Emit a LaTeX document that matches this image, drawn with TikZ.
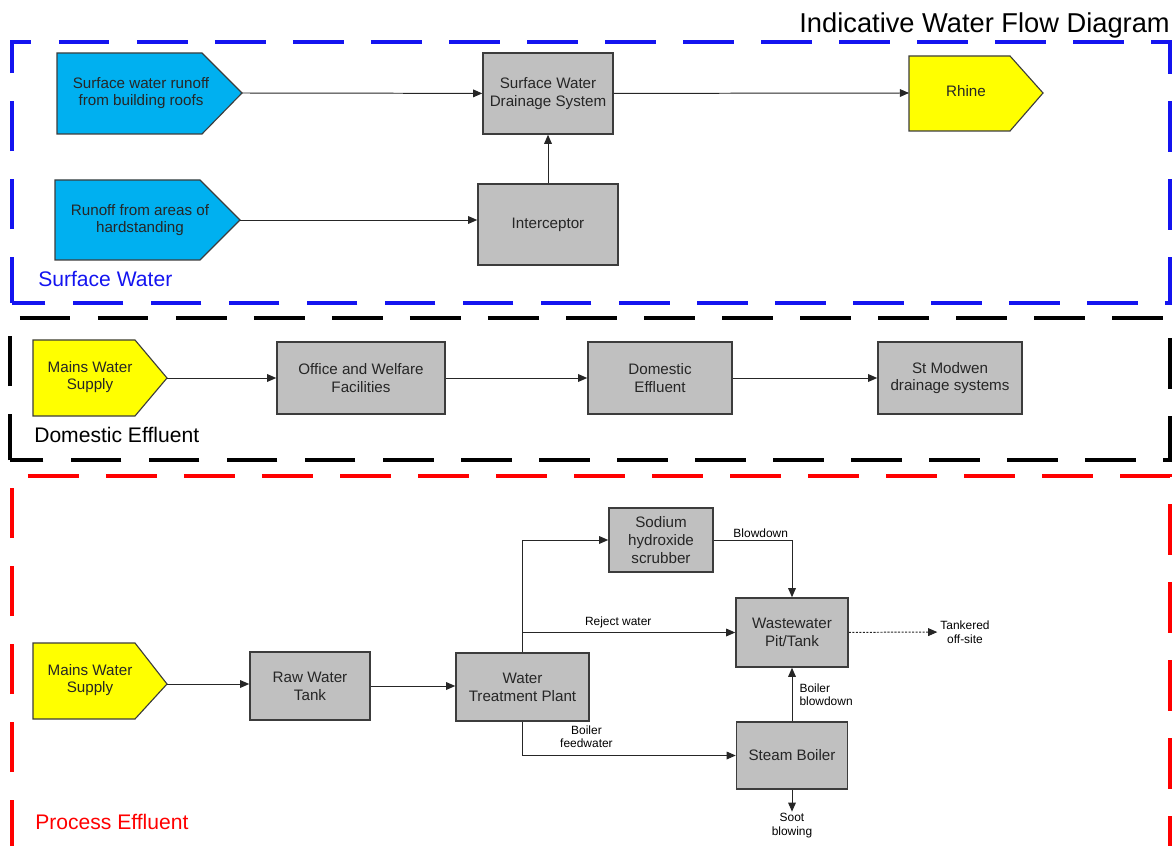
\documentclass[tikz,border=0pt]{standalone}
\usepackage{fontspec}
\setmainfont{Liberation Sans}
\usetikzlibrary{arrows.meta}
\definecolor{runoffblue}{HTML}{00B0F0}
\definecolor{supplyyellow}{HTML}{FFFF00}
\definecolor{unitgrey}{HTML}{C0C0C0}
\definecolor{edgegrey}{HTML}{3C3C3C}
\definecolor{zoneblue}{HTML}{1414F0}
\definecolor{zonered}{HTML}{FF0000}
\tikzset{> = { Triangle[length = 6.5pt, width = 5.5pt] }}
\tikzset{
	unit/.style = { draw = edgegrey, fill = unitgrey, line width = 1.1pt, align = center,
		inner sep = 0pt, text = black!85, font = \fontsize{10.8}{12.6}\selectfont },
	source/.style = { draw = edgegrey, line width = 0.8pt },
	sourcetext/.style = { align = center, inner sep = 0pt, text = black!85, font = \fontsize{10.8}{12.6}\selectfont },
	flow/.style = { line width = 0.7pt, draw = black!85 },
	note/.style = { align = center, inner sep = 1pt, font = \fontsize{8.5}{9.6}\selectfont },
	zone/.style = { line width = 2.6pt, dash pattern = on 36pt off 19.5pt, dash phase = 3pt },
	zonetitle/.style = { anchor = base west, inner sep = 0pt, font = \fontsize{15}{18}\selectfont }
}

\begin{document}
\begin{tikzpicture}[x = 0.25mm, y = -0.25mm]
	\useasboundingbox (0, 0) rectangle (1172, 846);

	% Zones.
	\draw [zone, zoneblue] (12, 303)
		to (12, 42)
		to (1170, 42)
		to (1170, 303)
		to cycle;
	\draw [zone, black] (10, 460)
		to (10, 318)
		to (1170, 318)
		to (1170, 460)
		to cycle;
	\draw [zone, zonered] (12, 846)
		to (12, 476)
		to (1170, 476)
		to (1170, 846);

	\node [anchor = base east, inner sep = 0pt, font = \fontsize{19.4}{23}\selectfont] (title) at (1170, 33) {Indicative Water Flow Diagram};
	\node [zonetitle, zoneblue] (surface) at (38, 287) {Surface Water};
	\node [zonetitle] (domestic) at (34, 443) {Domestic Effluent};
	\node [zonetitle, zonered] (process) at (35, 829) {Process Effluent};

	% Surface water.
	\draw [source, fill = runoffblue] (57, 53)
		to (202, 53)
		to (242, 93)
		to (202, 134)
		to (57, 134)
		to cycle;
	\node [sourcetext] (roofs) at (141, 93) {Surface water runoff\\from building roofs};
	\coordinate (roofs tip) at (242, 93);

	\draw [source, fill = runoffblue] (55, 180)
		to (200, 180)
		to (240, 220)
		to (200, 260)
		to (55, 260)
		to cycle;
	\node [sourcetext] (hard) at (140, 220) {Runoff from areas of\\hardstanding};
	\coordinate (hard tip) at (240, 220);

	\draw [source, fill = supplyyellow] (909, 56)
		to (1010, 56)
		to (1043, 93)
		to (1010, 131)
		to (909, 131)
		to cycle;
	\node [sourcetext] (rhine) at (966, 91) {Rhine};
	\coordinate (rhine back) at (909, 93);

	\node [unit, minimum width = 32.5mm, minimum height = 20.25mm] (swds) at (548, 93.5) {Surface Water\\Drainage System};
	\node [unit, minimum width = 35mm, minimum height = 20.25mm] (interceptor) at (548, 224.5) {Interceptor};

	\draw [flow, ->] (roofs tip) to (swds);
	\draw [flow, ->] (hard tip) to (hard tip -| interceptor.west);
	\draw [flow, ->] (interceptor) to (swds);
	\draw [flow, ->] (swds) to (rhine back);

	% Domestic effluent.
	\draw [source, fill = supplyyellow] (33, 340)
		to (135, 340)
		to (167, 378)
		to (135, 416)
		to (33, 416)
		to cycle;
	\node [sourcetext] (mains) at (90, 377) {Mains Water\\Supply};
	\coordinate (mains tip) at (167, 378);

	\node [unit, minimum width = 42mm, minimum height = 18mm] (office) at (361, 378) {Office and Welfare\\Facilities};
	\node [unit, minimum width = 36mm, minimum height = 18mm] (domeff) at (660, 378) {Domestic\\Effluent};
	\node [unit, minimum width = 36mm, minimum height = 18mm] (modwen) at (950, 378) {St Modwen\\drainage systems};

	\draw [flow, ->] (mains tip) to (office);
	\draw [flow, ->] (office) to (domeff);
	\draw [flow, ->] (domeff) to (modwen);

	% Process effluent.
	\draw [source, fill = supplyyellow] (33, 643)
		to (135, 643)
		to (167, 684)
		to (135, 719)
		to (33, 719)
		to cycle;
	\node [sourcetext] (supply) at (90, 680) {Mains Water\\Supply};
	\coordinate (supply tip) at (167, 684);

	\node [unit, minimum width = 30mm, minimum height = 17mm] (raw) at (310, 686) {Raw Water\\Tank};
	\node [unit, minimum width = 33.25mm, minimum height = 17mm] (wtp) at (522.5, 687) {Water\\Treatment Plant};
	\node [unit, minimum width = 26mm, minimum height = 16mm] (scrubber) at (661, 540) {Sodium\\hydroxide\\scrubber};
	\node [unit, minimum width = 28mm, minimum height = 17.25mm] (wastewater) at (792, 632.5) {Wastewater\\Pit/Tank};
	\node [unit, minimum width = 27.75mm, minimum height = 16.75mm] (steam) at (792, 755.5) {Steam Boiler};
	\node [note] (soot) at (792, 825.5) {Soot\\blowing};
	\node [note, inner sep = 2pt] (tankered) at (965, 632) {Tankered\\off-site};

	\draw [flow, ->] (supply tip) to (supply tip -| raw.west);
	\draw [flow, ->] (raw) to (raw -| wtp.west);
	\draw [flow, ->] (wtp.north) |- (scrubber);
	\draw [flow, ->] (wtp.north |- wastewater) to node [note, above, pos = 0.45, yshift = 2pt] {Reject water} (wastewater);
	\draw [flow, ->] (wtp.south) |- node [note, above, pos = 0.65, yshift = 4pt] {Boiler\\feedwater} (steam);
	\draw [flow, ->] (scrubber) -| node [note, above, pos = 0.3] {Blowdown} (wastewater);
	\draw [flow, ->] (steam) to node [note, right, align = left, xshift = 4pt] {Boiler\\blowdown} (wastewater);
	\draw [flow, ->] (steam) to (soot);
	\draw [flow, ->, dash pattern = on 1.5pt off 1pt] (wastewater) to (tankered);
\end{tikzpicture}
\end{document}
